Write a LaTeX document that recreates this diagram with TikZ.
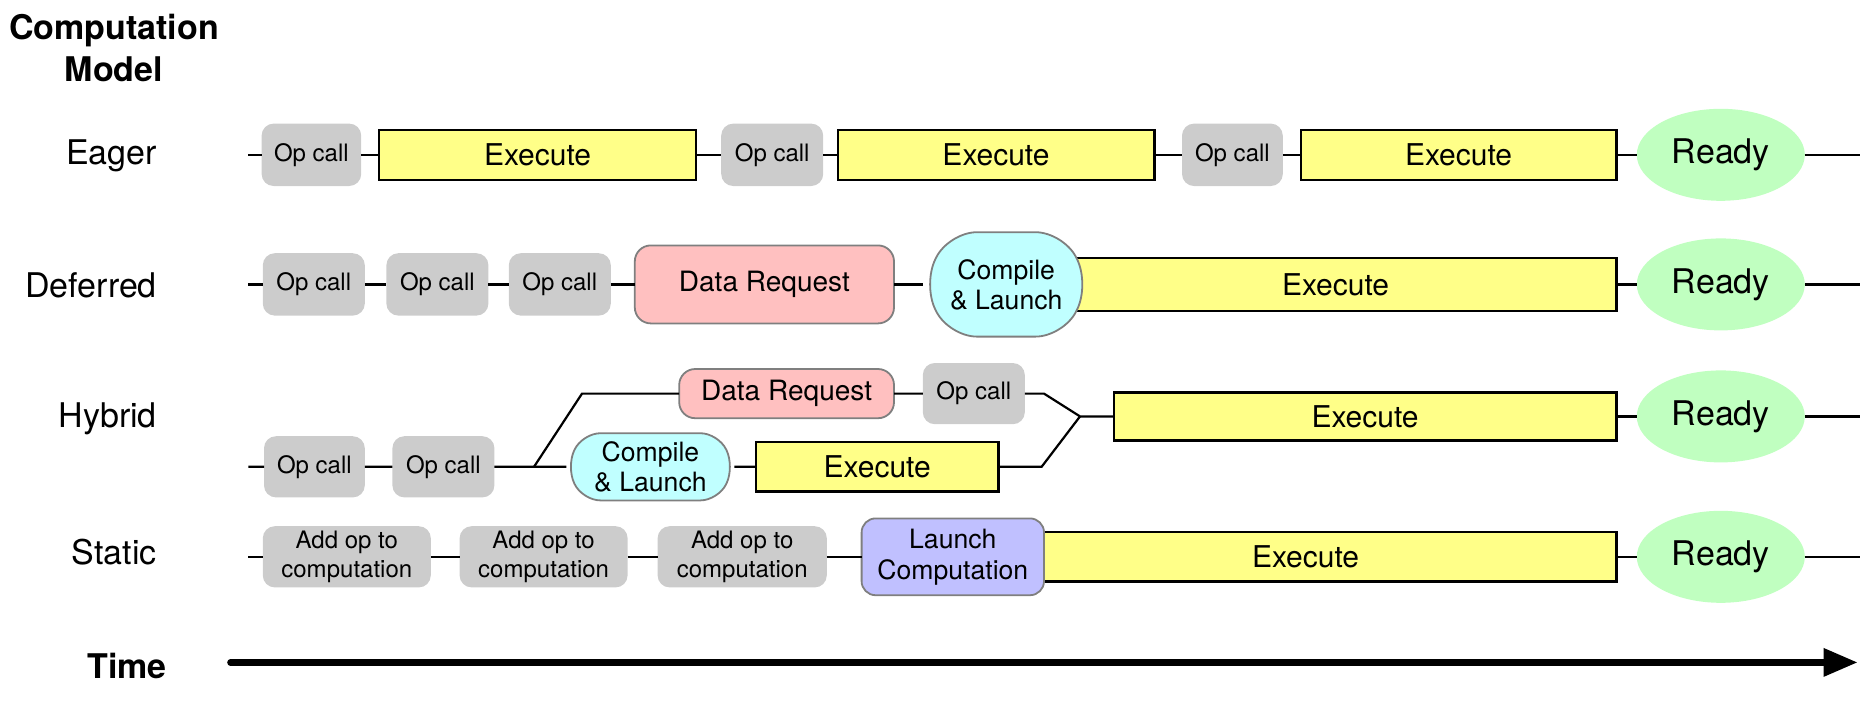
\documentclass[tikz,border=0pt]{standalone}
\usepackage{fontspec}
\setmainfont{TeX Gyre Heros}
\usetikzlibrary{arrows.meta,shapes.geometric,backgrounds}
\definecolor{opgray}{HTML}{CCCCCC}
\definecolor{execyellow}{HTML}{FFFF88}
\definecolor{reqpink}{HTML}{FFC0C0}
\definecolor{compcyan}{HTML}{C0FFFF}
\definecolor{launchblue}{HTML}{C0C0FF}
\definecolor{readygreen}{HTML}{C0FFC0}
\definecolor{edgegray}{HTML}{7F7F7F}
\begin{document}
\begin{tikzpicture}[x=0.6pt,y=-0.6pt]
  \tikzset{boxsize/.style 2 args={minimum width=#1*0.6pt,minimum height=#2*0.6pt},
    base/.style={shape=rectangle,text centered,align=center,inner sep=0pt,outer sep=0pt},
    opcall/.style={base,rounded corners=6pt,fill=opgray,font=\fontsize{12}{14.5}\selectfont},
    execute/.style={base,fill=execyellow,draw=black,line width=1.1pt,font=\fontsize{15}{18}\selectfont},
    request/.style={base,rounded corners=8pt,fill=reqpink,draw=edgegray,line width=0.9pt,font=\fontsize{14}{17}\selectfont},
    compile/.style={base,font=\fontsize{13.3}{15}\selectfont},
    barrel/.style={fill=compcyan,draw=edgegray,line width=0.9pt,rounded corners=14pt},
    launch/.style={base,rounded corners=7pt,fill=launchblue,draw=edgegray,line width=0.9pt,font=\fontsize{13.3}{15.6}\selectfont},
    ready/.style={shape=ellipse,fill=readygreen,inner sep=0pt,outer sep=0pt,minimum width=84pt,minimum height=46pt,font=\fontsize{17}{20}\selectfont},
    rowname/.style={anchor=east,inner sep=0pt,font=\fontsize{17}{20}\selectfont},
    link/.style={line width=1.1pt}};
  \useasboundingbox (0,0) rectangle (1560,588);
  % labels
  \node[align=center,font=\fontsize{17}{21}\selectfont\bfseries] (title) at (95,40) {Computation\\Model};
  \node[rowname] (eager) at (131,130) {Eager};
  \node[rowname] (deferred) at (131,238) {Deferred};
  \node[rowname] (hybrid) at (131,349) {Hybrid};
  \node[rowname] (static) at (131,460) {Static};
  \node[font=\fontsize{17}{20}\selectfont\bfseries] (time) at (106,555) {Time};
  % eager
  \coordinate (e0) at (207,129);
  \node[opcall,boxsize={83}{52}](e1) at (259.5,129){Op call};
  \node[execute,boxsize={264}{42}](e2) at (448,129){Execute};
  \node[opcall,boxsize={85}{52}](e3) at (643.5,129){Op call};
  \node[execute,boxsize={264}{42}](e4) at (830,129){Execute};
  \node[opcall,boxsize={84}{52}](e5) at (1027,129){Op call};
  \node[execute,boxsize={263}{42}](e6) at (1215.5,129){Execute};
  \node[ready](e7) at (1434,129){Ready};
  \coordinate (e8) at (1550,129);
  \draw[link] (e0) -- (e1) (e1) -- (e2) (e2) -- (e3) (e3) -- (e4);
  \draw[link] (e4) -- (e5) (e5) -- (e6) (e6) -- (e7) (e7) -- (e8);
  % deferred
  \coordinate (d0) at (207,237);
  \node[opcall,boxsize={85}{52}](d1) at (261.5,237){Op call};
  \node[opcall,boxsize={85}{52}](d2) at (364.5,237){Op call};
  \node[opcall,boxsize={85}{52}](d3) at (466.5,237){Op call};
  \node[request,boxsize={216}{65}](d4) at (637,237){Data Request};
  \node[compile,boxsize={139}{87}](d5) at (838.5,237){Compile\\\& Launch};
  \begin{scope}[on background layer]
    \node[execute,boxsize={468}{44}](d6) at (1113,237){Execute};
    \path[barrel] ([xshift=13pt]d5.north west) -- ([xshift=-13pt]d5.north east) -- (d5.east)
      -- ([xshift=-13pt]d5.south east) -- ([xshift=13pt]d5.south west) -- (d5.west) -- cycle;
  \end{scope}
  \node[ready](d7) at (1434,237){Ready};
  \coordinate (d8) at (1550,237);
  \draw[link] (d0) -- (d1) (d1) -- (d2) (d2) -- (d3) (d3) -- (d4);
  \draw[link] (d4) -- (d5) (d6) -- (d7) (d7) -- (d8);
  % hybrid
  \coordinate (h0) at (207,389);
  \node[opcall,boxsize={84}{51}](h1) at (262,389){Op call};
  \node[opcall,boxsize={85}{51}](h2) at (369.5,389){Op call};
  \coordinate (hs) at (445,389);
  \node[compile,boxsize={140}{56}](h3) at (542,389){Compile\\\& Launch};
  \begin{scope}[on background layer]
    \path[barrel,rounded corners=9pt] ([xshift=8pt]h3.north west) -- ([xshift=-8pt]h3.north east) -- (h3.east)
      -- ([xshift=-8pt]h3.south east) -- ([xshift=8pt]h3.south west) -- (h3.west) -- cycle;
  \end{scope}
  \node[execute,boxsize={202}{41}](h4) at (731,389){Execute};
  \coordinate (hl) at (868,389);
  \coordinate (hu) at (485,328);
  \node[request,boxsize={179}{41}](h5) at (655.5,328){Data Request};
  \node[opcall,boxsize={85}{51}](h6) at (811.5,328){Op call};
  \coordinate (hr) at (870,328);
  \coordinate (hm) at (900,347);
  \node[execute,boxsize={419}{40}](h7) at (1137.5,347){Execute};
  \node[ready](h8) at (1434,347){Ready};
  \coordinate (h9) at (1550,347);
  \draw[link] (h0) -- (h1) (h1) -- (h2) (h2) -- (hs) -- (h3) (h3) -- (h4) (h4) -- (hl) -- (hm);
  \draw[link] (hs) -- (hu) -- (h5) (h5) -- (h6) (h6) -- (hr) -- (hm) -- (h7);
  \draw[link] (h7) -- (h8) (h8) -- (h9);
  % static
  \coordinate (s0) at (207,464);
  \node[opcall,boxsize={140}{51}](s1) at (289,464){Add op to\\computation};
  \node[opcall,boxsize={140}{51}](s2) at (453,464){Add op to\\computation};
  \node[opcall,boxsize={141}{51}](s3) at (618.5,464){Add op to\\computation};
  \node[execute,boxsize={518}{41}](s5) at (1088,464){Execute};
  \node[launch,boxsize={152}{64}](s4) at (794,464){Launch\\Computation};
  \node[ready](s6) at (1434,464){Ready};
  \coordinate (s7) at (1550,464);
  \draw[link] (s0) -- (s1) (s1) -- (s2) (s2) -- (s3) (s3) -- (s4);
  \draw[link] (s5) -- (s6) (s6) -- (s7);
  % time axis
  \coordinate (t0) at (192,552);
  \coordinate (t1) at (1548,552);
  \draw[line width=3.2pt,line cap=round,-{Triangle[length=17pt,width=13.5pt]}] (t0) -- (t1);
\end{tikzpicture}
\end{document}
